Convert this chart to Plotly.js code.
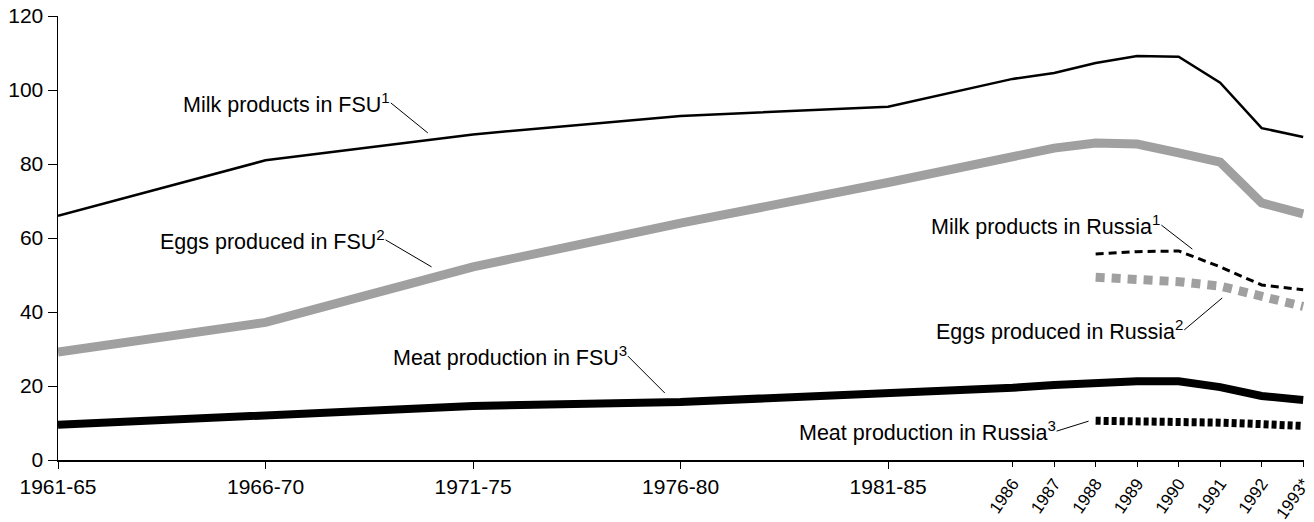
<!DOCTYPE html>
<html><head><meta charset="utf-8">
<script src="https://cdn.plot.ly/plotly-3.0.1.min.js"></script>
<style>body{margin:0;background:#fff}#c{width:1314px;height:522px}</style>
</head><body><div id="c"></div>
<script>
// Five-year periods, then single years
const periods = ['1961-65','1966-70','1971-75','1976-80','1981-85'];
const years = ['1986','1987','1988','1989','1990','1991','1992','1993*'];
const russiaYears = ['1988','1989','1990','1991','1992','1993*'];

// FSU series (periods then years)
const milkFSU  = [66, 81, 88, 93, 95.5, 103, 104.6, 107.3, 109.2, 109, 102, 89.7, 87.3];
const eggsFSU  = [29.2, 37.2, 52.2, 64, 75, 82.4, 84.3, 85.7, 85.4, 83, 80.5, 69.5, 66.5];
const meatFSU  = [9.5, 12, 14.6, 15.7, 17.8, 19.5, 20.3, 21, 21.3, 21.3, 19.7, 17.3, 16.2];
// Russia series (1988-1993)
const milkRussia = [55.7, 56.3, 56.5, 52.2, 47.3, 46];
const eggsRussia = [49.4, 48.9, 48.2, 47, 44, 41.5];
const meatRussia = [10.6, 10.6, 10.5, 10.1, 9.7, 9.2];

const yTicks = [0,20,40,60,80,100,120];

// numeric positions on a year scale: period midpoints, single years
const periodX = periods.map(p => parseInt(p.slice(0,4)) + 2);
const yearX = years.map(y => parseInt(y));
const fsuX = periodX.concat(yearX);
const rusX = russiaYears.map(y => parseInt(y));
const xRange = [fsuX[0], yearX[yearX.length-1] + 0.02];

const FONT = 'Liberation Sans, Arial, sans-serif';
const traces = [
  {x: fsuX, y: eggsFSU, mode:'lines', line:{color:'#a0a0a0', width:9}, hoverinfo:'skip'},
  {x: fsuX, y: meatFSU, mode:'lines', line:{color:'#000', width:8}, hoverinfo:'skip'},
  {x: fsuX, y: milkFSU, mode:'lines', line:{color:'#000', width:2.5}, hoverinfo:'skip'},
  {x: rusX, y: eggsRussia, xaxis:'x2', mode:'lines', line:{color:'#a0a0a0', width:9, dash:'9px,7px'}, hoverinfo:'skip'},
  {x: rusX, y: milkRussia, xaxis:'x2', mode:'lines', line:{color:'#000', width:3, dash:'8px,5px'}, hoverinfo:'skip'},
  {x: rusX, y: meatRussia, xaxis:'x2', mode:'lines', line:{color:'#000', width:8, dash:'5px,3px'}, hoverinfo:'skip'}
];

function ann(text, x, y, ax, ay){
  return {text, x, y, xref:'x', yref:'y', ax, ay, showarrow:true, arrowhead:0,
          arrowwidth:1, arrowcolor:'#000', standoff:0, startstandoff:0,
          xanchor:'right', yanchor:'middle', borderpad:0,
          font:{family:FONT, size:21.5, color:'#000'}};
}

const layout = {
  width:1314, height:522,
  margin:{l:58, r:10, t:16, b:62},
  paper_bgcolor:'#fff', plot_bgcolor:'#fff',
  showlegend:false,
  font:{family:FONT, size:21, color:'#000'},
  xaxis:{range:xRange, tickmode:'array', tickvals:periodX, ticktext:periods,
         tickangle:0, showgrid:false, zeroline:false, showline:true, linecolor:'#000', linewidth:1.5,
         ticks:'outside', ticklen:7, tickcolor:'#000', tickfont:{size:21}},
  xaxis2:{range:xRange, overlaying:'x', anchor:'y', side:'bottom',
          tickmode:'array', tickvals:yearX, ticktext:years, tickangle:-55,
          showgrid:false, zeroline:false, showline:false,
          ticks:'outside', ticklen:6, tickcolor:'#000', tickfont:{size:17}},
  yaxis:{range:[0,120], tickmode:'array', tickvals:yTicks, showgrid:false, zeroline:false,
         showline:true, linecolor:'#000', linewidth:1.5, ticks:'outside', ticklen:9, tickcolor:'#000',
         tickfont:{size:21}},
  annotations:[
    ann('Milk products in FSU<sup>1</sup>', 1971.91, 88.4, -37, -30),
    ann('Eggs produced in FSU<sup>2</sup>', 1972.0, 52.2, -46, -27),
    ann('Meat production in FSU<sup>3</sup>', 1977.62, 18.1, -37, -37),
    ann('Milk products in Russia<sup>1</sup>', 1990.33, 57.0, -31, -24),
    ann('Eggs produced in Russia<sup>2</sup>', 1991.05, 43.8, -38, 32),
    ann('Meat production in Russia<sup>3</sup>', 1987.83, 10.5, -32, 10)
  ]
};
Plotly.newPlot('c', traces, layout, {staticPlot:true});
</script></body></html>
